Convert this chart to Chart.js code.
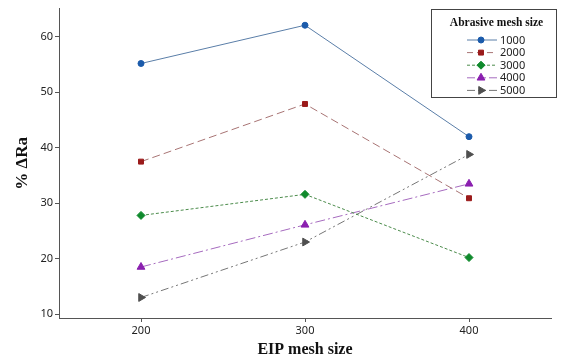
<!DOCTYPE html>
<html>
<head>
<meta charset="utf-8">
<script src="https://cdn.jsdelivr.net/npm/chart.js@4/dist/chart.umd.min.js"></script>
<style>
  html, body { margin: 0; padding: 0; background: #fff; }
  #wrap { width: 566px; height: 360px; }
</style>
</head>
<body>
<div id="wrap"><canvas id="myChart"></canvas></div>
<script>
var eipMesh = [200, 300, 400];
var abrasiveSizes = ['1000', '2000', '3000', '4000', '5000'];
var ra1000 = [55.2, 62.1, 42.0];
var ra2000 = [37.5, 47.9, 30.9];
var ra3000 = [27.8, 31.6, 20.2];
var ra4000 = [18.5, 26.1, 33.5];
var ra5000 = [13.0, 23.0, 38.8];
var yTicks = [10, 20, 30, 40, 50, 60];

var seriesValues = [ra1000, ra2000, ra3000, ra4000, ra5000];
var looks = [
  {line: '#5a7ea8', mark: '#1b5bab', style: 'circle', radius: 3, rot: 0, dash: [], key: []},
  {line: '#a87474', mark: '#9b1b1b', style: 'rect', radius: 3.5, rot: 0, dash: [8, 4], key: [6, 4]},
  {line: '#4c8c4c', mark: '#0f8a2c', style: 'rectRot', radius: 4, rot: 0, dash: [3, 2], key: [3, 2]},
  {line: '#a66bbf', mark: '#8a1faf', style: 'triangle', radius: 4.5, rot: 0, dash: [10, 3, 2, 3], key: [8, 3]},
  {line: '#767676', mark: '#4f4f4f', style: 'triangle', radius: 4.5, rot: 90, dash: [8, 3, 2, 3, 2, 3], key: [8, 3]}
];

function pointsOf(vals) {
  var pts = [];
  for (var i = 0; i < eipMesh.length; i++) {
    pts.push({x: eipMesh[i], y: vals[i]});
  }
  return pts;
}

var datasets = [];
for (var i = 0; i < abrasiveSizes.length; i++) {
  var lk = looks[i];
  datasets.push({
    label: abrasiveSizes[i],
    data: pointsOf(seriesValues[i]),
    borderColor: lk.line,
    borderWidth: 1,
    borderDash: lk.dash,
    backgroundColor: lk.mark,
    pointBackgroundColor: lk.mark,
    pointBorderColor: lk.mark,
    pointBorderWidth: 1,
    pointStyle: lk.style,
    pointRadius: lk.radius,
    pointRotation: lk.rot,
    tension: 0,
    fill: false
  });
}

// legend box drawn inside the plot, like the original figure
var boxLegend = {
  id: 'boxLegend',
  afterDraw: function (chart) {
    var ctx = chart.ctx;
    var x0 = 431, y0 = 9, w = 125, h = 88;
    ctx.save();
    ctx.fillStyle = '#fff';
    ctx.fillRect(x0, y0, w, h);
    ctx.strokeStyle = '#444';
    ctx.lineWidth = 1;
    ctx.strokeRect(x0 + 0.5, y0 + 0.5, w, h);

    ctx.fillStyle = '#111';
    ctx.font = 'bold 11.5px "Liberation Serif", "Times New Roman", serif';
    ctx.textAlign = 'center';
    ctx.textBaseline = 'middle';
    ctx.fillText('Abrasive mesh size', x0 + w / 2 + 3, 23);

    ctx.font = '11px "Noto Sans", sans-serif';
    ctx.textAlign = 'left';
    chart.data.datasets.forEach(function (ds, k) {
      var y = 40 + k * 12.6;
      ctx.strokeStyle = ds.borderColor;
      ctx.setLineDash(looks[k].key);
      ctx.beginPath();
      ctx.moveTo(467, y);
      ctx.lineTo(497, y);
      ctx.stroke();
      ctx.setLineDash([]);
      ctx.fillStyle = ds.pointBackgroundColor;
      ctx.strokeStyle = ds.pointBorderColor;
      if (Chart.helpers && Chart.helpers.drawPoint) {
        Chart.helpers.drawPoint(ctx, {
          pointStyle: ds.pointStyle,
          rotation: ds.pointRotation,
          radius: ds.pointRadius,
          borderWidth: 1
        }, 481, y);
      }
      ctx.fillStyle = '#222';
      ctx.fillText(ds.label, 500, y + 0.5);
    });
    ctx.restore();
  }
};

var ctx = document.getElementById('myChart');
var myChart = new Chart(ctx, {
  type: 'line',
  data: {datasets: datasets},
  plugins: [boxLegend],
  options: {
    responsive: true,
    maintainAspectRatio: false,
    animation: false,
    layout: {padding: {top: 7, right: 15, left: 0, bottom: 0}},
    plugins: {
      legend: {display: false},
      tooltip: {enabled: false}
    },
    scales: {
      x: {
        type: 'linear',
        min: 150,
        max: 450,
        afterBuildTicks: function (s) {
          s.ticks = eipMesh.map(function (v) { return {value: v}; });
        },
        afterFit: function (s) { s.height = 42; },
        grid: {drawOnChartArea: false, drawTicks: true, tickLength: 4, color: '#555'},
        border: {display: true, color: '#555', width: 1},
        ticks: {
          color: '#222',
          padding: 2,
          maxRotation: 0,
          font: {family: '"Noto Sans", sans-serif', size: 11}
        },
        title: {
          display: true,
          text: 'EIP mesh size',
          color: '#111',
          padding: {top: 0, bottom: 1},
          font: {family: '"Liberation Serif", "Times New Roman", serif', size: 16, weight: 'bold'}
        }
      },
      y: {
        min: 9.3,
        max: 65.1,
        afterBuildTicks: function (s) {
          s.ticks = yTicks.map(function (v) { return {value: v}; });
        },
        afterFit: function (s) { s.width = 59; },
        grid: {drawOnChartArea: false, drawTicks: true, tickLength: 4, color: '#555'},
        border: {display: true, color: '#555', width: 1},
        ticks: {
          color: '#222',
          padding: 2,
          font: {family: '"Noto Sans", sans-serif', size: 11}
        },
        title: {
          display: true,
          text: '% ΔRa',
          color: '#111',
          padding: {top: 12, bottom: 0},
          font: {family: '"Liberation Serif", "Times New Roman", serif', size: 17, weight: 'bold'}
        }
      }
    }
  }
});
</script>
</body>
</html>
